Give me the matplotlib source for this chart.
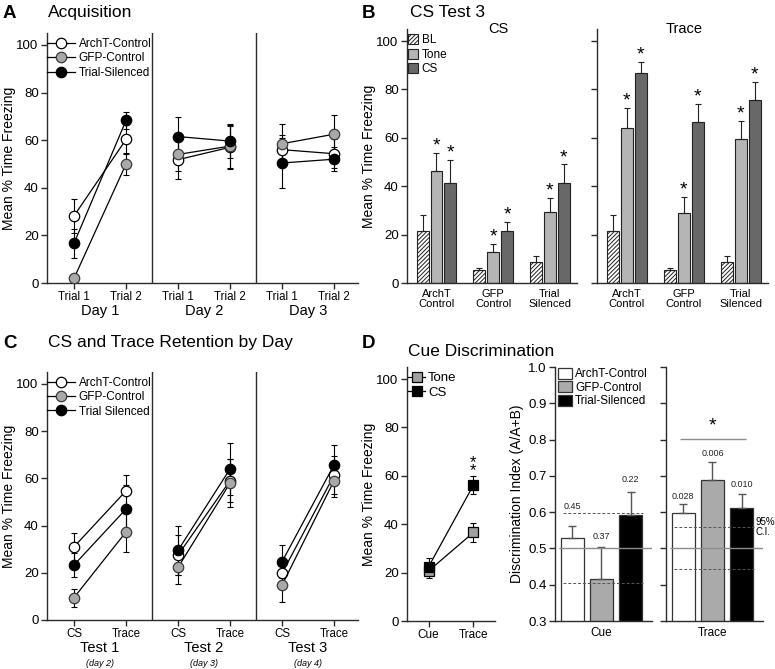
import numpy as np
import matplotlib.pyplot as plt
from matplotlib.transforms import blended_transform_factory

plt.rcParams['font.family'] = ['Liberation Sans', 'DejaVu Sans']
plt.rcParams['hatch.linewidth'] = 0.7
plt.rcParams['axes.linewidth'] = 1.0
plt.rcParams['axes.edgecolor'] = '#2b2b2b'

# ---- data ----
# A: acquisition, 3 days x 2 trials
trial_labels = ['Trial 1', 'Trial 2'] * 3
day_labels = ['Day 1', 'Day 2', 'Day 3']
archt_a = [28.2, 60.3, 51.8, 57.0, 56.0, 54.3]
archt_a_err = [7.0, 6.0, 8.3, 9.0, 6.0, 6.0]
gfp_a = [2.0, 50.0, 54.0, 57.5, 58.5, 62.5]
gfp_a_err = [1.5, 4.5, 7.0, 9.0, 8.2, 8.0]
ts_a = [16.7, 68.3, 61.5, 59.6, 50.4, 52.0]
ts_a_err = [6.0, 3.5, 8.3, 7.0, 10.4, 5.0]

# B: CS test 3
b_groups = ['ArchT\nControl', 'GFP\nControl', 'Trial\nSilenced']
bl = [21.7, 5.2, 8.8]
bl_err = [6.5, 1.2, 2.2]
tone_cs = [46.5, 13.0, 29.5]
tone_cs_err = [7.2, 3.0, 5.5]
cs_cs = [41.5, 21.5, 41.5]
cs_cs_err = [9.3, 3.8, 7.5]
tone_tr = [64.0, 28.8, 59.4]
tone_tr_err = [8.2, 6.7, 7.6]
cs_tr = [86.7, 66.7, 75.6]
cs_tr_err = [4.5, 7.3, 7.6]

# C: CS and trace retention
cond_labels = ['CS', 'Trace'] * 3
test_labels = ['Test 1', 'Test 2', 'Test 3']
test_days = ['(day 2)', '(day 3)', '(day 4)']
archt_c = [31.0, 54.7, 27.5, 59.0, 19.8, 61.3]
archt_c_err = [6.0, 6.7, 8.5, 9.0, 6.0, 8.0]
gfp_c = [9.5, 37.3, 22.3, 58.0, 14.8, 59.0]
gfp_c_err = [3.8, 8.3, 7.0, 10.0, 7.0, 7.0]
ts_c = [23.3, 47.0, 29.5, 64.0, 24.7, 65.7]
ts_c_err = [5.0, 10.0, 10.5, 11.0, 7.0, 8.3]

# D: cue discrimination
d_labels = ['Cue', 'Trace']
tone_d = [20.7, 36.6]
tone_d_err = [3.0, 3.8]
cs_d = [22.4, 56.2]
cs_d_err = [3.5, 3.8]

di_groups = ['ArchT-Control', 'GFP-Control', 'Trial-Silenced']
di_cue = [0.528, 0.415, 0.592]
di_cue_err = [0.034, 0.088, 0.064]
di_trace = [0.597, 0.688, 0.612]
di_trace_err = [0.026, 0.049, 0.038]
p_cue = ['0.45', '0.37', '0.22']
p_trace = ['0.028', '0.006', '0.010']
ci_cue = [0.404, 0.597]
ci_trace = [0.442, 0.558]

# ---- layout ----
W, H = 775, 669
fig = plt.figure(figsize=(W / 100, H / 100), dpi=100)
AX_COL = '#2b2b2b'


def add_ax(l, t, r, b):
    return fig.add_axes([l / W, 1 - b / H, (r - l) / W, (b - t) / H])


def ftext(x, y, s, **kw):
    return fig.text(x / W, 1 - y / H, s, **kw)


def style(ax):
    for s in ['top', 'right']:
        ax.spines[s].set_visible(False)
    ax.tick_params(direction='out', length=4, width=1, color=AX_COL,
                   labelsize=9.5, pad=2)


def line_panel(ax, series, xlabels, glabels, sublabels=None):
    x = np.arange(6)
    for name, y, e, fc, ec in series:
        y = np.array(y)
        e = np.array(e)
        for d in range(3):
            sl = slice(2 * d, 2 * d + 2)
            ax.errorbar(x[sl], y[sl], yerr=e[sl], fmt='none', ecolor='black',
                        elinewidth=0.8, capsize=2.5, capthick=0.8, zorder=2)
            ax.plot(x[sl], y[sl], '-o', color='black', lw=0.9, ms=7.5,
                    mfc=fc, mec=ec, mew=0.9, zorder=3,
                    label=name if d == 0 else None)
    for sep in [1.5, 3.5]:
        ax.axvline(sep, color=AX_COL, lw=1)
    ax.set_xlim(-0.52, 5.46)
    ax.set_ylim(0, 105)
    ax.set_yticks(range(0, 101, 20))
    ax.set_xticks(x)
    ax.set_xticklabels(xlabels, fontsize=8.3)
    tr = blended_transform_factory(ax.transData, ax.transAxes)
    for d in range(3):
        ax.text(2 * d + 0.5, -0.113, glabels[d], transform=tr, ha='center',
                va='center', fontsize=10.5)
        if sublabels:
            ax.text(2 * d + 0.5, -0.175, sublabels[d], transform=tr,
                    ha='center', va='center', fontsize=6.5, style='italic')
    ax.legend(loc='upper left', bbox_to_anchor=(-0.005, 0.985), frameon=False,
              fontsize=8.5, handlelength=2.4, handletextpad=0.3,
              labelspacing=0.2, borderaxespad=0, borderpad=0.1)


# Panel A
axA = add_ax(47, 33, 358, 283)
style(axA)
line_panel(axA, [('ArchT-Control', archt_a, archt_a_err, 'white', 'black'),
                 ('GFP-Control', gfp_a, gfp_a_err, '#a9a9a9', '#3a3a3a'),
                 ('Trial-Silenced', ts_a, ts_a_err, 'black', 'black')],
           trial_labels, day_labels)

# Panel C
axC = add_ax(47, 372, 358, 620)
style(axC)
line_panel(axC, [('ArchT-Control', archt_c, archt_c_err, 'white', 'black'),
                 ('GFP-Control', gfp_c, gfp_c_err, '#a9a9a9', '#3a3a3a'),
                 ('Trial Silenced', ts_c, ts_c_err, 'black', 'black')],
           cond_labels, test_labels, test_days)

# Panel B
axB1 = add_ax(407, 29, 577, 283)
axB2 = add_ax(597, 29, 768, 283)
bx = np.arange(3)
off, bw = 0.245, 0.21
ekw = dict(ecolor='#222222', elinewidth=0.8, capsize=2.5, capthick=0.8)
for ax, tone, tone_e, cs, cs_e, sub, subx in [
        (axB1, tone_cs, tone_cs_err, cs_cs, cs_cs_err, 'CS', 1.1),
        (axB2, tone_tr, tone_tr_err, cs_tr, cs_tr_err, 'Trace', 1.0)]:
    style(ax)
    z = np.zeros(3)
    ax.bar(bx - off, bl, bw, yerr=[z, bl_err], facecolor='white',
           edgecolor='#222222', hatch='////////', lw=0.8, error_kw=ekw,
           label='BL')
    ax.bar(bx, tone, bw, yerr=[z, tone_e], facecolor='#b5b5b5',
           edgecolor='#222222', lw=0.8, error_kw=ekw, label='Tone')
    ax.bar(bx + off, cs, bw, yerr=[z, cs_e], facecolor='#686868',
           edgecolor='#222222', lw=0.8, error_kw=ekw, label='CS')
    for xs, vals, errs in [(bx, tone, tone_e), (bx + off, cs, cs_e)]:
        for xi, v, e in zip(xs, vals, errs):
            ax.text(xi, v + e + 1.0, '*', ha='center', va='baseline',
                    fontsize=14)
    ax.set_xlim(-0.52, 2.48)
    ax.set_ylim(0, 105)
    ax.set_yticks(range(0, 101, 20))
    ax.set_xticks(bx)
    ax.set_xticklabels(b_groups, fontsize=8, linespacing=1.1)
    ax.tick_params(axis='x', length=0, pad=4)
    tr = blended_transform_factory(ax.transData, ax.transAxes)
    ax.text(subx, 1.0, sub, transform=tr, ha='center', va='center',
            fontsize=10.5)
axB2.tick_params(axis='y', labelleft=False)
axB1.legend(loc='upper left', bbox_to_anchor=(0.0, 0.985), frameon=False,
            fontsize=8.5, handlelength=0.85, handleheight=0.95,
            handletextpad=0.3, labelspacing=0.2, borderaxespad=0,
            borderpad=0.1)

# Panel D left
axD1 = add_ax(407, 367, 495, 621)
style(axD1)
dx = np.arange(2)
for y, e, fc, name in [(tone_d, tone_d_err, '#a0a0a0', 'Tone'),
                       (cs_d, cs_d_err, 'black', 'CS')]:
    axD1.errorbar(dx, y, yerr=e, fmt='none', ecolor='black', elinewidth=0.8,
                  capsize=2.5, capthick=0.8, zorder=2)
    axD1.plot(dx, y, '-s', color='black', lw=0.9, ms=7, mfc=fc, mec='black',
              mew=0.9, zorder=3, label=name)
# stacked double asterisk as one text
axD1.text(1, 60.3, '*\n*', ha='center', va='baseline', fontsize=12,
          linespacing=0.42)
axD1.set_xlim(-0.48, 1.48)
axD1.set_ylim(0, 105)
axD1.set_yticks(range(0, 101, 20))
axD1.set_xticks(dx)
axD1.set_xticklabels(d_labels, fontsize=8.5)
axD1.legend(loc='upper left', bbox_to_anchor=(0.0, 0.985), frameon=False,
            fontsize=9.5, handlelength=1.3, handletextpad=0.2,
            labelspacing=0.15, borderaxespad=0, borderpad=0.1)

# Panel D right
axD2 = add_ax(555, 367, 652, 621)
axD3 = add_ax(666, 367, 763, 621)
gx = np.arange(3)
bar_cols = ['white', '#aaaaaa', 'black']
dkw = dict(ecolor='#555555', elinewidth=1.0, capsize=3, capthick=1.0)
p_offsets = [[0.053, 0.031, 0.033], [0.021, 0.025, 0.025]]
for k, (ax, vals, errs, ps, ci, lab) in enumerate([
        (axD2, di_cue, di_cue_err, p_cue, ci_cue, 'Cue'),
        (axD3, di_trace, di_trace_err, p_trace, ci_trace, 'Trace')]):
    style(ax)
    for i in range(3):
        ax.bar(gx[i], vals[i], 0.785, yerr=[[0], [errs[i]]],
               facecolor=bar_cols[i], edgecolor='#333333', lw=0.9,
               error_kw=dkw, label=di_groups[i], zorder=2)
        ax.text(gx[i], vals[i] + errs[i] + p_offsets[k][i], ps[i],
                ha='center', va='center', fontsize=6.5, color='#222222')
    ax.hlines(0.5, -0.45, 2.72, color='#8c8c8c', lw=1, zorder=3)
    ax.hlines(ci, -0.3, 2.42, color='#555555', lw=0.7,
              linestyles=(0, (3, 2)), zorder=3)
    ax.set_xlim(-0.58, 2.72)
    ax.set_ylim(0.3, 1.0)
    ax.set_yticks(np.arange(0.3, 1.01, 0.1))
    ax.set_yticklabels(['%.1f' % v for v in np.arange(0.3, 1.01, 0.1)])
    ax.set_xticks([1])
    ax.set_xticklabels([lab], fontsize=8.5)
    ax.tick_params(axis='x', length=0, pad=4)
axD3.tick_params(axis='y', labelleft=False)
axD3.hlines(0.802, -0.11, 2.13, color='#8c8c8c', lw=1)
axD3.text(1, 0.825, '*', ha='center', va='baseline', fontsize=14)
axD3.text(2.47, 0.56, '95%\nC.I.', ha='left', va='center', fontsize=7,
          linespacing=1.0, clip_on=False)
axD2.legend(loc='upper left', bbox_to_anchor=(0.02, 1.0), frameon=False,
            fontsize=8.5, handlelength=1.2, handleheight=1.05,
            handletextpad=0.3, labelspacing=0.1, borderaxespad=0,
            borderpad=0.05)

# y labels
ylab = 'Mean % Time Freezing'
for x, yc in [(9, 158), (369, 156), (9, 496), (369, 494)]:
    ftext(x, yc, ylab, rotation=90, ha='center', va='center', fontsize=10)
ftext(517, 494, 'Discrimination Index (A/A+B)', rotation=90, ha='center',
      va='center', fontsize=10)

# panel letters and titles
for x, y, s in [(3, 5, 'A'), (362, 5, 'B'), (3, 335, 'C'), (362, 335, 'D')]:
    ftext(x, y, s, fontsize=13.5, fontweight='bold', va='top', ha='left')
for x, y, s in [(48, 5, 'Acquisition'), (410, 5, 'CS Test 3'),
                (48, 335, 'CS and Trace Retention by Day'),
                (408, 344, 'Cue Discrimination')]:
    ftext(x, y, s, fontsize=12.5, va='top', ha='left')

fig.savefig('out.png', dpi=100)
